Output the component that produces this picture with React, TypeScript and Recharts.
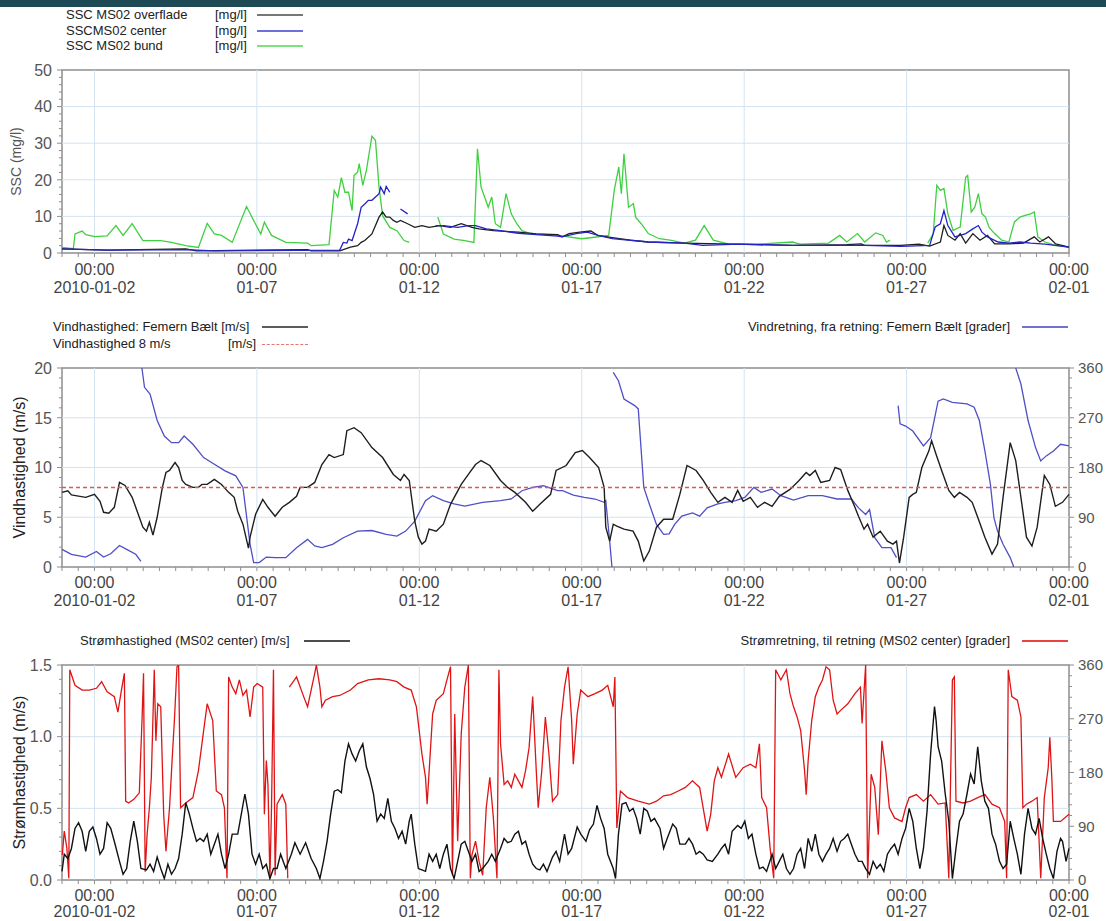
import React from 'react'
import { LineChart, Line, XAxis, YAxis, ReferenceLine, ReferenceArea } from 'recharts'

type Pt = [number, number | null]

// x axis: days after 2010-01-01 00:00
const dayTicks = [1, 6, 11, 16, 21, 26, 31]
const timeLabels = ['00:00', '00:00', '00:00', '00:00', '00:00', '00:00', '00:00']
const dateLabels = ['2010-01-02', '01-07', '01-12', '01-17', '01-22', '01-27', '02-01']

// SSC (mg/l)
const sscOverflade: Pt[] = [[0,1.1],[1.39,0.8],[3.81,1.1],[4.14,0.6],[7.56,0.9],[7.67,0.6],[8.55,0.6],[8.88,1.6],[9.10,2.0],[9.21,2.9],[9.32,3.4],[9.54,5.2],[9.76,9.8],[9.87,11.2],[9.98,9.8],[10.09,9.8],[10.20,8.9],[10.31,8.4],[10.42,8.9],[10.64,8.0],[10.86,7.0],[11.08,7.5],[11.30,7.0],[11.63,7.5],[11.96,7.0],[12.29,8.0],[12.62,7.0],[12.84,6.6],[13.28,6.1],[14.05,5.7],[14.60,5.2],[15.26,5.0],[15.40,4.4],[15.61,5.3],[15.94,5.7],[16.28,6.0],[16.50,4.8],[16.94,4.2],[17.50,3.5],[18.05,3.0],[19.16,2.7],[20.27,2.5],[21.38,2.3],[22.49,2.1],[24.16,2.3],[24.60,2.5],[24.71,2.1],[25.82,2.1],[26.38,2.4],[26.71,1.9],[27.04,3.0],[27.15,7.5],[27.27,4.8],[27.49,3.5],[27.65,5.3],[27.82,2.7],[28.04,5.3],[28.26,3.5],[28.49,4.8],[28.71,2.5],[29.15,2.5],[29.60,2.7],[29.93,4.4],[30.10,3.0],[30.37,4.4],[30.59,2.5],[31,1.6]]
const sscCenter: Pt[] = [[0,1.1],[1.39,0.8],[3.81,0.9],[4.69,0.6],[8.55,0.8],[8.66,2.9],[8.77,2.7],[8.82,3.8],[8.93,3.4],[9.10,8.0],[9.21,12.5],[9.32,13.4],[9.43,14.4],[9.54,14.4],[9.65,15.3],[9.76,16.2],[9.81,18.0],[9.92,16.2],[9.98,18.2],[10.09,16.6],[10.2,null],[10.42,12.0],[10.64,10.7],[11.0,null],[11.5,7.5],[11.74,7.5],[12.18,7.0],[12.51,7.5],[12.73,7.5],[13.06,6.6],[13.50,6.1],[14.05,5.4],[14.60,5.0],[15.26,4.6],[15.39,4.4],[15.83,5.3],[16.17,5.7],[16.50,4.8],[16.94,3.9],[18.05,3.0],[19.16,2.7],[19.72,2.1],[20.83,2.4],[22.49,2.1],[23.60,2.1],[24.71,2.1],[25.82,1.8],[26.71,2.1],[26.88,7.1],[27.04,8.0],[27.15,11.6],[27.27,7.5],[27.49,4.4],[27.82,5.3],[28.04,6.6],[28.21,7.5],[28.32,5.7],[28.49,4.4],[28.82,3.0],[29.15,2.7],[29.49,3.0],[29.82,2.7],[30.26,2.4],[31,1.6]]
const sscBund: Pt[] = [[0,1.5],[0.35,1.2],[0.40,5.2],[0.62,6.0],[0.73,5.0],[1.0,4.5],[1.39,4.7],[1.66,7.5],[1.88,4.8],[2.16,8.0],[2.49,3.4],[3.04,3.4],[3.37,2.9],[3.81,2.0],[4.20,1.5],[4.47,8.1],[4.69,5.2],[4.91,4.8],[5.24,2.9],[5.68,12.7],[5.90,8.9],[6.12,5.2],[6.23,8.4],[6.45,4.8],[6.89,2.9],[7.56,2.7],[7.67,2.0],[8.22,2.3],[8.38,17.1],[8.49,15.3],[8.60,20.6],[8.71,16.6],[8.82,16.6],[8.93,11.6],[8.99,21.2],[9.10,22.1],[9.15,24.4],[9.26,18.5],[9.37,22.6],[9.54,31.9],[9.65,30.8],[9.76,18.0],[9.87,10.2],[10.09,7.0],[10.31,6.1],[10.53,3.4],[10.69,2.9],[11.0,null],[11.57,9.8],[11.74,5.2],[12.07,3.8],[12.40,3.4],[12.68,2.9],[12.79,28.5],[12.90,18.0],[13.01,15.3],[13.12,12.5],[13.23,15.3],[13.34,8.0],[13.50,7.0],[13.67,16.2],[13.83,10.7],[14.00,8.0],[14.16,6.1],[14.38,5.4],[14.60,5.2],[15.26,4.8],[16.0,3.9],[16.39,4.3],[16.83,4.8],[17.0,17.1],[17.08,20.7],[17.14,23.5],[17.22,16.2],[17.30,27.1],[17.44,12.5],[17.59,13.5],[17.66,9.8],[17.83,8.0],[18.05,5.3],[18.39,3.9],[18.72,3.5],[19.16,2.7],[19.50,3.5],[19.77,7.5],[20.05,3.5],[20.50,2.5],[21.38,2.4],[22.49,3.0],[22.71,2.4],[23.60,2.7],[23.94,4.8],[24.16,3.0],[24.49,5.3],[24.71,3.0],[25.05,5.5],[25.27,4.8],[25.38,3.0],[25.49,3.5],[26.0,null],[26.65,2.7],[26.82,5.2],[26.93,18.5],[27.04,17.1],[27.15,17.6],[27.27,10.7],[27.43,6.2],[27.65,7.1],[27.82,20.7],[27.88,21.2],[27.99,11.2],[28.10,12.5],[28.21,16.2],[28.32,10.7],[28.43,9.8],[28.54,7.0],[28.71,5.3],[28.93,3.5],[29.15,3.0],[29.32,8.5],[29.49,9.8],[29.65,10.3],[29.82,10.7],[29.93,11.2],[30.04,4.4],[30.26,3.0],[30.59,2.1],[31,1.6]]

// wind
const windSpeed: Pt[] = [[0,7.5],[0.18,7.65],[0.29,7.25],[0.73,7.0],[1.0,7.3],[1.17,6.6],[1.28,5.5],[1.44,5.4],[1.61,6.0],[1.77,8.5],[1.94,8.2],[2.16,7.0],[2.38,5.0],[2.49,4.0],[2.60,3.6],[2.69,4.5],[2.80,3.2],[2.93,5.0],[3.09,8.0],[3.20,9.5],[3.31,9.7],[3.48,10.5],[3.59,10.0],[3.70,8.7],[3.81,8.3],[4.03,8.0],[4.20,8.0],[4.31,8.3],[4.47,8.3],[4.69,8.8],[4.91,8.3],[5.13,7.5],[5.30,7.0],[5.41,5.6],[5.57,4.3],[5.74,1.9],[5.79,3.0],[5.96,5.3],[6.18,6.8],[6.34,6.0],[6.56,5.1],[6.78,6.0],[7.0,6.5],[7.22,7.1],[7.33,8.0],[7.56,8.0],[7.78,8.5],[8.0,10.3],[8.22,11.3],[8.38,11.0],[8.66,11.3],[8.77,13.7],[8.99,14.0],[9.21,13.5],[9.54,12.0],[9.87,11.0],[10.20,9.3],[10.42,8.7],[10.53,9.3],[10.69,8.7],[10.86,4.6],[10.97,3.0],[11.08,2.3],[11.19,2.6],[11.30,3.8],[11.52,3.6],[11.74,4.3],[11.96,6.3],[12.29,8.3],[12.51,9.3],[12.73,10.3],[12.90,10.7],[13.17,10.2],[13.50,8.7],[13.72,8.0],[13.94,7.5],[14.27,6.5],[14.49,5.6],[14.71,6.3],[15.04,7.3],[15.21,9.7],[15.52,10.2],[15.80,11.5],[16.02,11.7],[16.24,11.0],[16.52,10.0],[16.69,8.0],[16.74,4.0],[16.86,2.6],[16.97,4.3],[17.08,4.1],[17.30,3.8],[17.58,3.6],[17.74,2.6],[17.91,0.6],[18.08,1.6],[18.30,4.0],[18.52,4.8],[18.80,4.8],[19.02,7.3],[19.24,10.2],[19.52,9.7],[19.74,8.7],[19.97,7.5],[20.19,6.5],[20.41,7.0],[20.63,6.5],[20.80,7.7],[20.97,6.6],[21.19,7.0],[21.41,6.0],[21.63,6.5],[21.86,6.1],[22.08,7.1],[22.41,7.8],[22.69,8.7],[22.91,9.5],[23.02,9.2],[23.19,9.7],[23.36,8.5],[23.63,8.7],[23.80,10.0],[23.97,9.8],[24.19,7.7],[24.41,6.0],[24.52,5.1],[24.69,3.8],[24.80,4.3],[24.97,3.0],[25.19,3.6],[25.41,2.6],[25.58,2.3],[25.69,2.6],[25.78,0.4],[25.91,3.0],[26.08,7.0],[26.19,7.3],[26.30,7.5],[26.47,10.0],[26.69,11.7],[26.77,12.7],[26.91,11.3],[27.08,9.7],[27.30,7.7],[27.47,7.0],[27.63,7.5],[27.86,7.0],[28.02,6.5],[28.19,5.0],[28.41,3.0],[28.63,1.3],[28.80,2.3],[28.97,7.0],[29.19,12.5],[29.36,10.7],[29.52,7.0],[29.69,3.0],[29.86,2.1],[30.02,4.0],[30.24,9.2],[30.41,8.3],[30.58,6.1],[30.80,6.5],[31,7.3]]
const windLimit = 8
const windDir: Pt[] = [[0,32],[0.29,23],[0.73,18],[1.06,28],[1.28,18],[1.50,24],[1.77,39],[1.99,32],[2.27,23],[2.43,10],[2.44,null],[2.46,360],[2.54,325],[2.71,313],[2.93,265],[3.15,237],[3.37,225],[3.59,225],[3.76,237],[4.03,222],[4.36,198],[4.69,186],[5.02,174],[5.35,165],[5.57,144],[5.79,41],[5.90,8],[6.07,8],[6.29,18],[6.56,17],[6.89,17],[7.22,35],[7.56,50],[7.78,38],[8.0,35],[8.33,41],[8.66,53],[9.10,65],[9.54,66],[9.98,59],[10.31,56],[10.58,65],[10.86,83],[11.19,120],[11.41,129],[11.74,120],[12.07,114],[12.40,110],[12.95,117],[13.50,120],[13.83,123],[14.16,138],[14.49,144],[14.82,147],[15.26,138],[15.41,138],[15.74,130],[16.08,126],[16.41,123],[16.69,117],[16.74,120],[16.86,47],[16.93,0],[16.95,null],[16.97,352],[17.13,337],[17.30,304],[17.63,292],[17.74,286],[17.91,144],[18.08,114],[18.30,77],[18.52,59],[18.69,60],[18.86,77],[19.08,92],[19.41,98],[19.63,92],[19.86,107],[20.19,114],[20.41,117],[20.74,120],[21.02,126],[21.30,144],[21.52,135],[21.86,141],[22.13,129],[22.52,121],[22.97,129],[23.41,129],[23.86,123],[24.30,123],[24.52,107],[24.74,95],[24.86,104],[25.02,53],[25.24,35],[25.52,35],[25.69,17],[25.72,null],[25.74,292],[25.80,259],[25.97,255],[26.19,246],[26.52,219],[26.74,234],[26.97,300],[27.13,304],[27.41,298],[27.86,295],[28.08,289],[28.24,265],[28.41,210],[28.58,150],[28.69,89],[28.80,65],[28.97,41],[29.19,17],[29.30,0],[29.33,null],[29.36,360],[29.52,331],[29.74,265],[29.97,216],[30.13,192],[30.30,201],[30.52,210],[30.74,222],[31,219]]

// current
const currentSpeed: Pt[] = [[0,0.06],[0.07,0.18],[0.18,0.15],[0.29,0.22],[0.40,0.36],[0.51,0.40],[0.62,0.34],[0.73,0.20],[0.84,0.34],[0.95,0.37],[1.06,0.29],[1.17,0.18],[1.28,0.22],[1.39,0.40],[1.50,0.36],[1.61,0.27],[1.77,0.13],[1.88,0.04],[1.99,0.08],[2.10,0.27],[2.21,0.41],[2.32,0.27],[2.43,0.08],[2.60,0.07],[2.71,0.11],[2.82,0.06],[2.93,0.16],[3.04,0.08],[3.15,0.01],[3.26,0.11],[3.37,0.04],[3.48,0.08],[3.59,0.15],[3.70,0.32],[3.81,0.54],[3.92,0.46],[4.03,0.36],[4.14,0.27],[4.25,0.29],[4.36,0.27],[4.47,0.32],[4.58,0.18],[4.69,0.25],[4.80,0.32],[4.91,0.18],[5.02,0.08],[5.13,0.18],[5.24,0.32],[5.41,0.32],[5.52,0.46],[5.63,0.60],[5.74,0.46],[5.85,0.18],[5.96,0.11],[6.07,0.18],[6.18,0.08],[6.29,0.11],[6.40,0.01],[6.51,0.08],[6.62,0.08],[6.73,0.18],[6.89,0.08],[7.06,0.18],[7.17,0.26],[7.33,0.18],[7.50,0.26],[7.67,0.15],[7.83,0.08],[7.94,0.01],[8.05,0.13],[8.16,0.27],[8.27,0.46],[8.38,0.62],[8.49,0.63],[8.60,0.61],[8.71,0.83],[8.82,0.95],[8.93,0.88],[9.04,0.83],[9.15,0.90],[9.26,0.95],[9.37,0.79],[9.48,0.71],[9.59,0.60],[9.70,0.41],[9.81,0.46],[9.92,0.43],[10.03,0.57],[10.14,0.41],[10.25,0.36],[10.36,0.29],[10.47,0.34],[10.58,0.25],[10.69,0.41],[10.75,0.46],[10.86,0.25],[10.97,0.08],[11.08,0.07],[11.19,0.06],[11.30,0.18],[11.41,0.13],[11.52,0.18],[11.63,0.08],[11.74,0.18],[11.85,0.25],[11.96,0.08],[12.07,0.01],[12.18,0.13],[12.29,0.25],[12.40,0.27],[12.51,0.20],[12.62,0.13],[12.73,0.18],[12.84,0.06],[12.95,0.08],[13.12,0.13],[13.23,0.18],[13.34,0.13],[13.50,0.22],[13.61,0.29],[13.72,0.26],[13.83,0.27],[13.94,0.32],[14.05,0.34],[14.16,0.25],[14.27,0.27],[14.38,0.18],[14.49,0.11],[14.60,0.08],[14.71,0.07],[14.82,0.11],[14.93,0.06],[15.10,0.16],[15.21,0.20],[15.32,0.13],[15.47,0.32],[15.58,0.18],[15.69,0.22],[15.86,0.37],[15.97,0.32],[16.13,0.27],[16.24,0.35],[16.36,0.39],[16.47,0.52],[16.58,0.43],[16.69,0.36],[16.80,0.18],[16.97,0.08],[17.04,0.01],[17.13,0.32],[17.24,0.53],[17.36,0.54],[17.47,0.48],[17.58,0.50],[17.69,0.43],[17.80,0.32],[17.91,0.50],[18.02,0.48],[18.13,0.41],[18.24,0.43],[18.41,0.36],[18.52,0.22],[18.63,0.29],[18.80,0.39],[18.91,0.36],[19.02,0.25],[19.19,0.25],[19.30,0.29],[19.41,0.25],[19.52,0.18],[19.63,0.20],[19.74,0.18],[19.86,0.14],[20.02,0.13],[20.19,0.18],[20.30,0.22],[20.41,0.25],[20.52,0.18],[20.63,0.34],[20.80,0.38],[20.91,0.36],[21.02,0.41],[21.13,0.29],[21.24,0.32],[21.36,0.18],[21.47,0.08],[21.58,0.09],[21.69,0.06],[21.86,0.18],[21.97,0.08],[22.08,0.13],[22.19,0.18],[22.30,0.08],[22.41,0.04],[22.52,0.08],[22.63,0.18],[22.74,0.22],[22.86,0.08],[22.97,0.29],[23.08,0.20],[23.19,0.32],[23.30,0.18],[23.41,0.13],[23.52,0.18],[23.63,0.22],[23.74,0.29],[23.86,0.20],[23.97,0.27],[24.08,0.29],[24.19,0.32],[24.30,0.25],[24.41,0.18],[24.52,0.13],[24.63,0.13],[24.74,0.08],[24.86,0.04],[24.97,0.13],[25.08,0.08],[25.19,0.11],[25.30,0.06],[25.41,0.18],[25.52,0.22],[25.63,0.25],[25.74,0.18],[25.86,0.29],[25.97,0.36],[26.08,0.50],[26.19,0.41],[26.30,0.22],[26.41,0.08],[26.52,0.22],[26.63,0.48],[26.74,0.88],[26.86,1.21],[26.91,1.11],[26.97,0.93],[27.08,0.83],[27.19,0.60],[27.30,0.41],[27.41,0.01],[27.52,0.22],[27.63,0.41],[27.74,0.46],[27.86,0.60],[27.97,0.74],[28.08,0.67],[28.19,0.93],[28.30,0.69],[28.41,0.55],[28.52,0.50],[28.63,0.32],[28.74,0.25],[28.86,0.13],[28.97,0.08],[29.08,0.11],[29.19,0.41],[29.30,0.29],[29.41,0.18],[29.52,0.04],[29.63,0.32],[29.74,0.50],[29.86,0.36],[29.97,0.32],[30.08,0.43],[30.19,0.29],[30.30,0.18],[30.41,0.08],[30.52,0.01],[30.63,0.20],[30.74,0.29],[30.80,0.27],[30.91,0.13],[31,0.22]]
const currentDir: Pt[] = [[0.01,42],[0.07,82],[0.15,53],[0.21,3],[0.24,352],[0.40,326],[0.62,318],[0.84,318],[1.06,321],[1.22,332],[1.39,315],[1.61,307],[1.72,281],[1.83,318],[1.92,346],[1.96,132],[2.05,129],[2.21,135],[2.38,146],[2.47,278],[2.51,346],[2.56,14],[2.62,76],[2.69,121],[2.75,172],[2.84,352],[2.89,233],[2.95,295],[3.04,290],[3.13,110],[3.20,48],[3.31,121],[3.40,211],[3.46,267],[3.54,357],[3.59,360],[3.65,121],[3.81,129],[4.03,138],[4.20,183],[4.36,250],[4.47,295],[4.64,267],[4.75,149],[4.91,143],[5.00,121],[5.08,3],[5.13,340],[5.24,323],[5.35,312],[5.46,335],[5.57,309],[5.68,318],[5.79,273],[5.90,323],[6.01,329],[6.18,323],[6.23,110],[6.29,200],[6.34,160],[6.40,3],[6.45,121],[6.51,352],[6.56,8],[6.62,127],[6.78,143],[6.89,127],[6.95,3],[6.97,null],[7.0,323],[7.22,340],[7.44,307],[7.56,290],[7.67,318],[7.78,346],[7.83,360],[7.94,323],[8.0,290],[8.11,301],[8.33,307],[8.55,309],[8.88,318],[9.10,329],[9.43,335],[9.76,337],[10.09,335],[10.31,332],[10.53,323],[10.75,318],[10.91,290],[11.08,211],[11.19,172],[11.24,127],[11.41,278],[11.52,301],[11.74,312],[11.85,335],[11.96,357],[12.02,8],[12.09,278],[12.18,65],[12.29,245],[12.40,323],[12.51,360],[12.57,3],[12.62,42],[12.73,65],[12.84,31],[12.95,8],[13.06,121],[13.17,172],[13.28,104],[13.39,3],[13.45,352],[13.50,228],[13.61,160],[13.72,166],[13.83,155],[13.94,177],[14.05,166],[14.16,155],[14.27,183],[14.38,222],[14.49,307],[14.60,183],[14.66,121],[14.77,183],[14.88,273],[14.99,211],[15.10,132],[15.26,143],[15.36,267],[15.47,323],[15.58,357],[15.69,267],[15.74,194],[15.86,278],[15.97,318],[16.19,307],[16.41,312],[16.63,318],[16.80,326],[16.97,290],[17.02,340],[17.08,87],[17.19,149],[17.41,138],[17.74,132],[18.08,127],[18.30,132],[18.52,141],[18.74,143],[18.97,149],[19.19,155],[19.41,166],[19.63,155],[19.86,82],[19.97,110],[20.08,166],[20.19,188],[20.30,172],[20.52,211],[20.74,172],[20.97,188],[21.19,194],[21.36,188],[21.47,228],[21.54,138],[21.69,121],[21.80,53],[21.91,3],[21.97,352],[22.13,335],[22.30,352],[22.41,312],[22.52,290],[22.63,273],[22.74,250],[22.86,183],[22.91,143],[22.97,200],[23.08,267],[23.19,307],[23.30,323],[23.41,335],[23.52,357],[23.63,352],[23.74,301],[23.86,278],[23.97,284],[24.19,295],[24.41,312],[24.58,323],[24.63,262],[24.74,360],[24.80,3],[24.91,177],[25.02,155],[25.13,76],[25.24,233],[25.36,183],[25.47,121],[25.63,104],[25.86,98],[25.97,121],[26.08,138],[26.30,143],[26.52,132],[26.74,143],[26.97,127],[27.19,129],[27.30,3],[27.41,335],[27.47,340],[27.52,132],[27.74,129],[27.97,132],[28.19,138],[28.41,143],[28.63,127],[28.86,121],[29.02,98],[29.08,3],[29.13,352],[29.24,307],[29.41,301],[29.52,273],[29.58,121],[29.69,127],[29.86,132],[30.02,138],[30.13,3],[30.24,138],[30.36,188],[30.41,239],[30.47,172],[30.52,98],[30.74,98],[31,110]]

const rows = (pts: Pt[]) => pts.map(([t, v]) => ({ t, v }))

const halfDays = Array.from({ length: 63 }, (_, i) => i / 2)
const FONT = 'Arial, "Liberation Sans", sans-serif'
const GRID = '#d3e3ef'
const FRAME = '#8e8e8e'

const xTick = (l1: number, l2: number) => (props: any) => {
  const { x, y, payload } = props
  const i = dayTicks.indexOf(payload.value)
  return (
    <g>
      <line x1={x} y1={y} x2={x} y2={y + 4} stroke={FRAME} />
      {i >= 0 && (
        <text textAnchor="middle" fill="#444" fontSize={16} fontFamily={FONT}>
          <tspan x={x} y={y + l1}>{timeLabels[i]}</tspan>
          <tspan x={x} y={y + l2}>{dateLabels[i]}</tspan>
        </text>
      )}
    </g>
  )
}

const yTick = (majors: number[], side: 'left' | 'right', digits: number) => (props: any) => {
  const { x, y, payload } = props
  const v = payload.value as number
  const major = majors.some((m) => Math.abs(m - v) < 1e-6)
  const dir = side === 'left' ? -1 : 1
  return (
    <g>
      <line x1={x} y1={y} x2={x + dir * (major ? 5 : 3)} y2={y} stroke={FRAME} />
      {major && (
        <text x={x + dir * (side === 'left' ? 10 : 9)} y={y} dy="0.36em" textAnchor={side === 'left' ? 'end' : 'start'}
          fill="#555" fontSize={side === 'left' ? 16 : 15} fontFamily={FONT}>
          {v.toFixed(digits)}
        </text>
      )}
    </g>
  )
}

const yTitle = (text: string, x: number, size: number, color: string) => (props: any) => {
  const vb = props.viewBox
  const cy = vb.y + vb.height / 2
  return (
    <text x={x} y={cy} transform={`rotate(-90 ${x} ${cy})`} textAnchor="middle" dominantBaseline="central"
      fontSize={size} fill={color} fontFamily={FONT}>
      {text}
    </text>
  )
}

const timeAxis = (h: number, l1: number, l2: number) => (
  <XAxis dataKey="t" type="number" domain={[0, 31]} ticks={halfDays} interval={0} height={h}
    axisLine={false} tickLine={false} tickSize={0} tickMargin={0} tick={xTick(l1, l2)} />
)

const LegendRow = ({ top, left, right, children }: any) => (
  <div style={{ position: 'absolute', top, left, right, fontSize: 13, lineHeight: '16px', color: '#222',
    fontFamily: FONT, whiteSpace: 'nowrap', display: 'flex', alignItems: 'center' }}>
    {children}
  </div>
)
const Swatch = ({ color, dashed, width = 46 }: any) => (
  <span style={{ display: 'inline-block', width, borderTop: `${dashed ? 1.5 : 2}px ${dashed ? 'dashed' : 'solid'} ${color}`, opacity: 0.8 }} />
)

export default function App() {
  const sscTicks = Array.from({ length: 26 }, (_, i) => i * 2)
  const windTicks = Array.from({ length: 21 }, (_, i) => i)
  const degTicks = Array.from({ length: 21 }, (_, i) => i * 18)
  const curTicks = Array.from({ length: 16 }, (_, i) => i / 10)

  return (
    <div style={{ position: 'absolute', left: 0, top: 0, width: 1106, height: 921, overflow: 'hidden', background: '#fff', fontFamily: FONT }}>
      <div style={{ position: 'absolute', left: 0, top: 0, width: 1106, height: 7, background: '#1e4a55' }} />

      {/* SSC */}
      <div style={{ position: 'absolute', left: 0, top: 60 }}>
        <LineChart width={1106} height={250} margin={{ top: 10, right: 37, bottom: 0, left: 0 }}>
          {timeAxis(57, 22, 40)}
          <YAxis type="number" domain={[0, 50]} ticks={sscTicks} interval={0} width={62} axisLine={false} tickLine={false}
            tickSize={0} tickMargin={0} tick={yTick([0, 10, 20, 30, 40, 50], 'left', 0)} allowDataOverflow
            label={{ content: yTitle('SSC (mg/l)', 16, 14, '#555') }} />
          {dayTicks.slice(0, 6).map((d) => <ReferenceLine key={d} x={d} stroke={GRID} />)}
          {[10, 20, 30, 40].map((v) => <ReferenceLine key={v} y={v} stroke={GRID} />)}
          <ReferenceArea x1={0} x2={31} y1={0} y2={50} fill="none" stroke={FRAME} strokeWidth={1.5} />
          <Line data={rows(sscBund)} dataKey="v" stroke="#3fd03f" strokeWidth={1.3} dot={false} isAnimationActive={false} />
          <Line data={rows(sscOverflade)} dataKey="v" stroke="#1e1e1e" strokeWidth={1.3} dot={false} isAnimationActive={false} />
          <Line data={rows(sscCenter)} dataKey="v" stroke="#2424c4" strokeWidth={1.3} dot={false} isAnimationActive={false} />
        </LineChart>
      </div>

      {/* wind */}
      <div style={{ position: 'absolute', left: 0, top: 358 }}>
        <LineChart width={1106} height={260} margin={{ top: 10, right: 0, bottom: 0, left: 0 }}>
          {timeAxis(51, 21, 39)}
          <YAxis yAxisId="l" type="number" domain={[0, 20]} ticks={windTicks} interval={0} width={62} axisLine={false}
            tickLine={false} tickSize={0} tickMargin={0} tick={yTick([0, 5, 10, 15, 20], 'left', 0)} allowDataOverflow
            label={{ content: yTitle('Vindhastighed (m/s)', 19, 16, '#222') }} />
          <YAxis yAxisId="r" orientation="right" type="number" domain={[0, 360]} ticks={degTicks} interval={0} width={37}
            axisLine={false} tickLine={false} tickSize={0} tickMargin={0} tick={yTick([0, 90, 180, 270, 360], 'right', 0)} allowDataOverflow />
          {dayTicks.slice(0, 6).map((d) => <ReferenceLine key={d} yAxisId="l" x={d} stroke={GRID} />)}
          {[5, 10, 15].map((v) => <ReferenceLine key={v} yAxisId="l" y={v} stroke={GRID} />)}
          <ReferenceArea yAxisId="l" x1={0} x2={31} y1={0} y2={20} fill="none" stroke={FRAME} strokeWidth={1.5} />
          <Line yAxisId="r" data={rows(windDir)} dataKey="v" stroke="#4f4fc6" strokeWidth={1.3} dot={false} isAnimationActive={false} />
          <Line yAxisId="l" data={rows(windSpeed)} dataKey="v" stroke="#1e1e1e" strokeWidth={1.4} dot={false} isAnimationActive={false} />
          <ReferenceLine yAxisId="l" y={windLimit} stroke="#e05555" strokeWidth={1.5} strokeDasharray="4 3" />
        </LineChart>
      </div>

      {/* current */}
      <div style={{ position: 'absolute', left: 0, top: 655 }}>
        <LineChart width={1106} height={266} margin={{ top: 10, right: 0, bottom: 0, left: 0 }}>
          {timeAxis(41, 21, 37)}
          <YAxis yAxisId="l" type="number" domain={[0, 1.5]} ticks={curTicks} interval={0} width={62} axisLine={false}
            tickLine={false} tickSize={0} tickMargin={0} tick={yTick([0, 0.5, 1, 1.5], 'left', 1)} allowDataOverflow
            label={{ content: yTitle('Strømhastighed (m/s)', 19, 16, '#222') }} />
          <YAxis yAxisId="r" orientation="right" type="number" domain={[0, 360]} ticks={degTicks} interval={0} width={37}
            axisLine={false} tickLine={false} tickSize={0} tickMargin={0} tick={yTick([0, 90, 180, 270, 360], 'right', 0)} allowDataOverflow />
          {dayTicks.slice(0, 6).map((d) => <ReferenceLine key={d} yAxisId="l" x={d} stroke={GRID} />)}
          {[0.5, 1].map((v) => <ReferenceLine key={v} yAxisId="l" y={v} stroke={GRID} />)}
          <ReferenceArea yAxisId="l" x1={0} x2={31} y1={0} y2={1.5} fill="none" stroke={FRAME} strokeWidth={1.5} />
          <Line yAxisId="r" data={rows(currentDir)} dataKey="v" stroke="#e01414" strokeWidth={1.3} dot={false} isAnimationActive={false} />
          <Line yAxisId="l" data={rows(currentSpeed)} dataKey="v" stroke="#111" strokeWidth={1.4} dot={false} isAnimationActive={false} />
        </LineChart>
      </div>

      {/* legends */}
      <LegendRow top={7} left={66}><span style={{ width: 149, display: 'inline-block' }}>SSC MS02 overflade</span><span style={{ width: 42, display: 'inline-block' }}>[mg/l]</span><Swatch color="#555" /></LegendRow>
      <LegendRow top={23} left={66}><span style={{ width: 149, display: 'inline-block' }}>SSCMS02 center</span><span style={{ width: 42, display: 'inline-block' }}>[mg/l]</span><Swatch color="#4a4ad6" /></LegendRow>
      <LegendRow top={38} left={66}><span style={{ width: 149, display: 'inline-block' }}>SSC MS02 bund</span><span style={{ width: 42, display: 'inline-block' }}>[mg/l]</span><Swatch color="#5ddc5d" /></LegendRow>

      <LegendRow top={319} left={53}><span style={{ width: 209, display: 'inline-block' }}>Vindhastighed: Femern Bælt [m/s]</span><Swatch color="#333" /></LegendRow>
      <LegendRow top={336} left={53}><span style={{ width: 175, display: 'inline-block' }}>Vindhastighed 8 m/s</span><span style={{ width: 34, display: 'inline-block' }}>[m/s]</span><Swatch color="#e05555" dashed /></LegendRow>
      <LegendRow top={319} right={38}><span style={{ marginRight: 12 }}>Vindretning, fra retning: Femern Bælt [grader]</span><Swatch color="#4f4fc6" /></LegendRow>

      <LegendRow top={633} left={80}><span style={{ width: 224, display: 'inline-block' }}>Strømhastighed (MS02 center) [m/s]</span><Swatch color="#222" /></LegendRow>
      <LegendRow top={633} right={38}><span style={{ marginRight: 12 }}>Strømretning, til retning (MS02 center) [grader]</span><Swatch color="#e01414" /></LegendRow>
    </div>
  )
}
